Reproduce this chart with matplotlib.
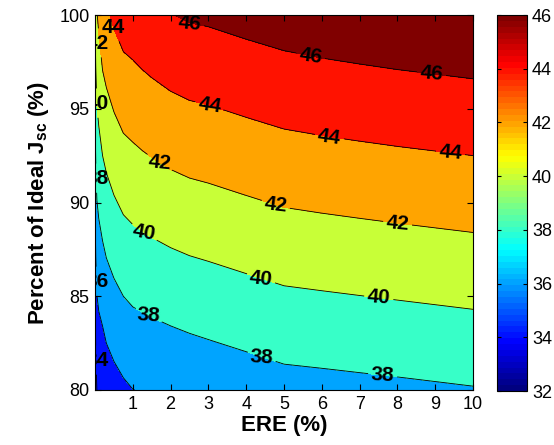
import numpy as np
import matplotlib
matplotlib.use('Agg')
import matplotlib.pyplot as plt
from matplotlib.colors import Normalize, ListedColormap
from matplotlib.cm import ScalarMappable

plt.rcParams['font.family'] = 'Liberation Sans'
plt.rcParams['mathtext.fontset'] = 'custom'
plt.rcParams['mathtext.rm'] = 'Liberation Sans'
plt.rcParams['mathtext.bf'] = 'Liberation Sans:bold'

# ERE (%) columns, efficiency (%) at 80 % and 100 % of ideal Jsc
ere = [0.01, 0.02, 0.05, 0.1, 0.2, 0.3, 0.5, 0.75, 1.0, 1.25, 1.5, 2, 2.5, 3, 4, 5, 6, 7, 8, 9, 10]
jsc = [80, 100]
eff_at_80 = [32.5, 33.2, 34.0, 34.3, 34.5, 34.9, 35.31, 35.70, 35.98, 36.08, 36.18, 36.36,
             36.54, 36.71, 37.02, 37.34, 37.44, 37.55, 37.66, 37.78, 37.90]
eff_at_100 = [40.6, 41.1, 41.9, 42.4, 43.3, 43.7, 44.33, 44.9, 45.09, 45.35, 45.57, 45.95,
              46.2, 46.3, 46.62, 46.91, 47.11, 47.27, 47.42, 47.54, 47.66]

levels = [30, 32, 34, 36, 38, 40, 42, 44, 46, 48]
cbar_ticks = [32, 34, 36, 38, 40, 42, 44, 46]
x_ticks = [1, 2, 3, 4, 5, 6, 7, 8, 9, 10]
y_ticks = [80, 85, 90, 95, 100]

# where the contour labels sit, and their tilt
label_pos = [(0.45, 99.3), (2.5, 99.55), (5.7, 97.8), (8.9, 96.8),
             (3.0, 95.0), (6.2, 93.5), (9.4, 92.6),
             (1.7, 92.1), (4.8, 90.0), (8.0, 88.8),
             (1.27, 88.3), (4.4, 86.0), (7.5, 84.8),
             (1.4, 83.9), (4.4, 81.7), (7.6, 80.6),
             (0.07, 98.5), (0.05, 95.3), (0.05, 91.3), (0.05, 85.8), (0.05, 81.6)]
label_rot = [0, -5, -8, -5,
             -9, -8, -5,
             -6, -7, -5,
             -10, -6, -4,
             -4, -4, -3,
             0, 0, 0, 0, 0]


def matlab_jet(t):
    t = np.clip(t, 0, 1)
    r = np.clip(1.5 - abs(4*t - 3), 0, 1)
    g = np.clip(1.5 - abs(4*t - 2), 0, 1)
    b = np.clip(1.5 - abs(4*t - 1), 0, 1)
    return (r, g, b)


vmin, vmax = 32, 46
fill_colors = [matlab_jet((L - vmin)/(vmax - vmin)) for L in levels[:-1]]
jet64 = ListedColormap([matlab_jet(i/63.0) for i in range(64)])

Z = np.array([eff_at_80, eff_at_100])

fig = plt.figure(figsize=(5.54, 4.45), dpi=100)
ax = fig.add_axes([95/554, 1 - 390/445, 378/554, 375/445])
cax = fig.add_axes([497/554, 1 - 391/445, 30/554, 376/445])

ax.contourf(ere, jsc, Z, levels=levels, colors=fill_colors)
cs = ax.contour(ere, jsc, Z, levels=levels[1:-1], colors='k', linewidths=0.6)
ax.set_xlim(0, 10)
ax.set_ylim(80, 100)

labels = ax.clabel(cs, fontsize=15, inline=True, inline_spacing=3, fmt='%d', manual=label_pos)
for i, (t, r) in enumerate(zip(labels, label_rot)):
    t.set_fontweight('bold')
    t.set_rotation(r)
    # labels on the left edge and top edge are half cut by the frame
    if i == 1 or i >= 16:
        t.set_position(label_pos[i])

ax.set_xticks(x_ticks)
ax.set_yticks(y_ticks)
ax.tick_params(direction='in', top=True, right=True, length=4, labelsize=13, pad=4)
ax.set_xlabel('ERE (%)', fontsize=16, fontweight='bold', labelpad=2)
ax.set_ylabel(r'Percent of Ideal J$_{\mathbf{sc}}$ (%)', fontsize=16, fontweight='bold', labelpad=6)

cb = fig.colorbar(ScalarMappable(norm=Normalize(vmin, vmax), cmap=jet64), cax=cax, ticks=cbar_ticks)
cb.ax.tick_params(direction='in', left=True, right=True, length=3, labelsize=13)
cb.outline.set_linewidth(0.8)

fig.savefig('out.png', dpi=100)
